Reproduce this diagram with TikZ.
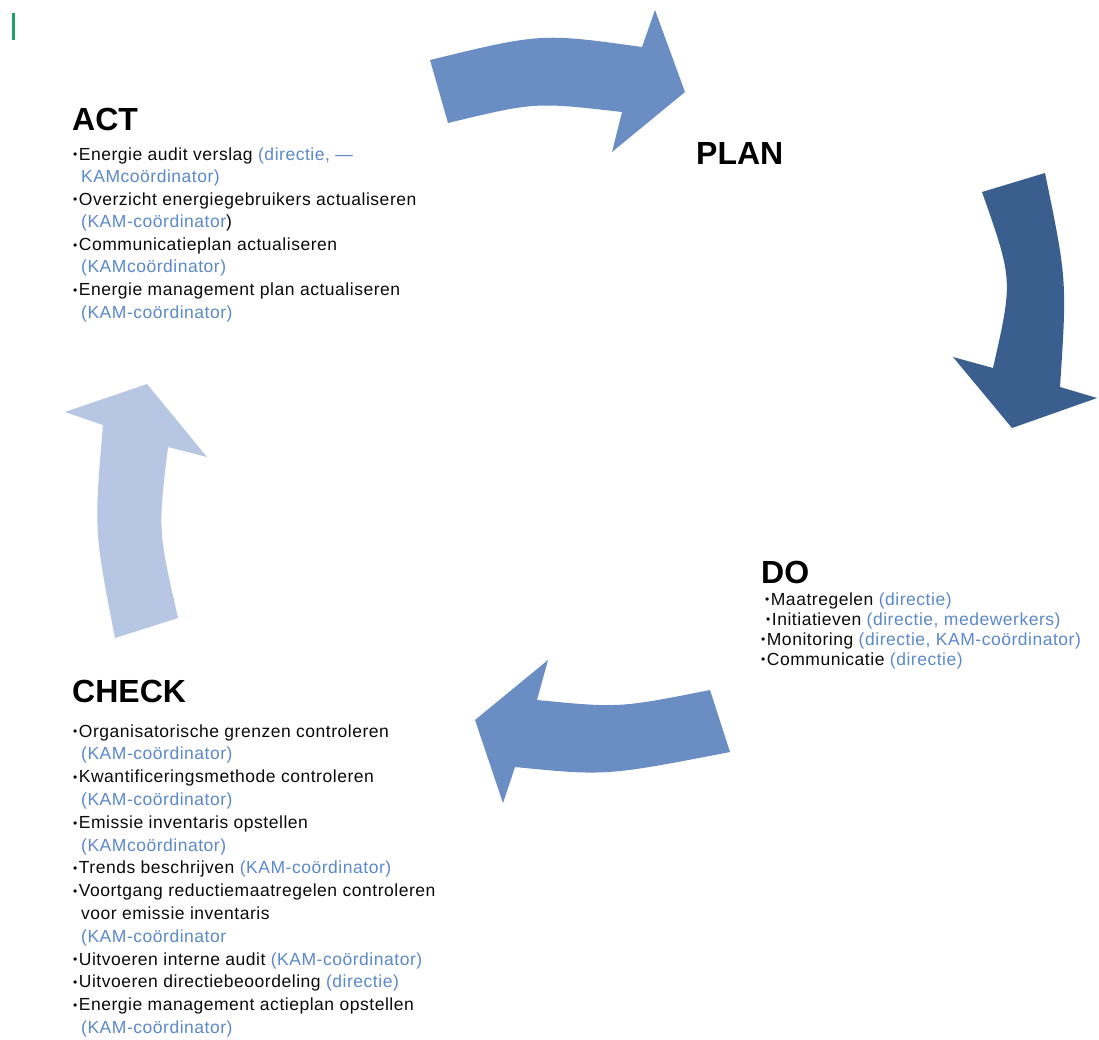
\documentclass[tikz,border=0pt]{standalone}
\usepackage{fontspec}
\setmainfont{Liberation Sans}
\newfontfamily\bodyfont[LetterSpace=3]{Liberation Sans}
\definecolor{arrowmid}{HTML}{6A8EC4}
\definecolor{arrowdark}{HTML}{3A5E8D}
\definecolor{arrowlight}{HTML}{B7C6E2}
\definecolor{textblue}{HTML}{5B89C9}
\definecolor{textblack}{HTML}{0A0A0A}
\definecolor{markgreen}{HTML}{1DA462}
\newcommand{\bl}[1]{\textcolor{textblue}{#1}}
\newcommand{\bu}{{\fontsize{12}{12}\selectfont\raisebox{1.2pt}{•}}\hspace{1.5pt}}
\tikzset{
  body/.style={anchor=base west, inner sep=0pt, font=\bodyfont\fontsize{17.5}{20}\selectfont, text=textblack},
  head/.style={anchor=base west, inner sep=0pt, font=\fontsize{32}{36}\selectfont\bfseries, text=black},
}
\begin{document}
\begin{tikzpicture}[x=1pt,y=-1pt]
\useasboundingbox[fill=white] (0,0) rectangle (1099,1039);
% green mark
\fill[markgreen] (11.5,13) rectangle (14.5,40);
% top arrow (ACT -> PLAN)
\fill[arrowmid] (430,60) .. controls (541,33) .. (642,47) -- (655,10) -- (685,92) -- (612,152) -- (622,112)
  .. controls (535,102) .. (448,123) -- cycle;
% right arrow (PLAN -> DO)
\fill[arrowdark] (982,192) -- (1045,173) .. controls (1067,280) .. (1060,387) -- (1097,398) -- (1012,428)
  -- (953,357) -- (993,368) .. controls (1013,280) .. cycle;
% bottom arrow (DO -> CHECK)
\fill[arrowmid] (710,690) .. controls (619,708) .. (537,700) -- (548,660) -- (475,720) -- (503,803)
  -- (515,767) .. controls (606,776) .. (730,752) -- cycle;
% left arrow (CHECK -> ACT)
\fill[arrowlight] (115,638) .. controls (94,530) .. (103,425) -- (65,412) -- (147,384) -- (207,457)
  -- (168,447) .. controls (158,530) .. (178,618) -- cycle;
% headings
\node[head] (act) at (72,130) {ACT};
\node[head] (plan) at (696,164) {PLAN};
\node[head] (do) at (761,583) {DO};
\node[head] (check) at (72,702) {CHECK};
% ACT list
\node[body] (a1) at (73,160) {\bu Energie audit verslag \bl{(directie, —}};
\node[body] (a2) at (81,182.6) {\bl{KAMcoördinator)}};
\node[body] (a3) at (73,205.1) {\bu Overzicht energiegebruikers actualiseren};
\node[body] (a4) at (81,227.7) {\bl{(KAM-coördinator})};
\node[body] (a5) at (73,250.3) {\bu Communicatieplan actualiseren};
\node[body] (a6) at (81,272.9) {\bl{(KAMcoördinator)}};
\node[body] (a7) at (73,295.4) {\bu Energie management plan actualiseren};
\node[body] (a8) at (81,318) {\bl{(KAM-coördinator)}};
% DO list
\node[body] (d1) at (765,605) {\bu Maatregelen \bl{(directie)}};
\node[body] (d2) at (766,625) {\bu Initiatieven \bl{(directie, medewerkers)}};
\node[body] (d3) at (761,645) {\bu Monitoring \bl{(directie, KAM-coördinator)}};
\node[body] (d4) at (761,665) {\bu Communicatie \bl{(directie)}};
% CHECK list
\node[body] (c1) at (73,737) {\bu Organisatorische grenzen controleren};
\node[body] (c2) at (81,759.8) {\bl{(KAM-coördinator)}};
\node[body] (c3) at (73,782.6) {\bu Kwantificeringsmethode controleren};
\node[body] (c4) at (81,805.4) {\bl{(KAM-coördinator)}};
\node[body] (c5) at (73,828.2) {\bu Emissie inventaris opstellen};
\node[body] (c6) at (81,851) {\bl{(KAMcoördinator)}};
\node[body] (c7) at (73,873.8) {\bu Trends beschrijven \bl{(KAM-coördinator)}};
\node[body] (c8) at (73,896.6) {\bu Voortgang reductiemaatregelen controleren};
\node[body] (c9) at (81,919.4) {voor emissie inventaris};
\node[body] (c10) at (81,942.2) {\bl{(KAM-coördinator}};
\node[body] (c11) at (73,965) {\bu Uitvoeren interne audit \bl{(KAM-coördinator)}};
\node[body] (c12) at (73,987.8) {\bu Uitvoeren directiebeoordeling \bl{(directie)}};
\node[body] (c13) at (73,1010.6) {\bu Energie management actieplan opstellen};
\node[body] (c14) at (81,1033.4) {\bl{(KAM-coördinator)}};
\end{tikzpicture}
\end{document}
